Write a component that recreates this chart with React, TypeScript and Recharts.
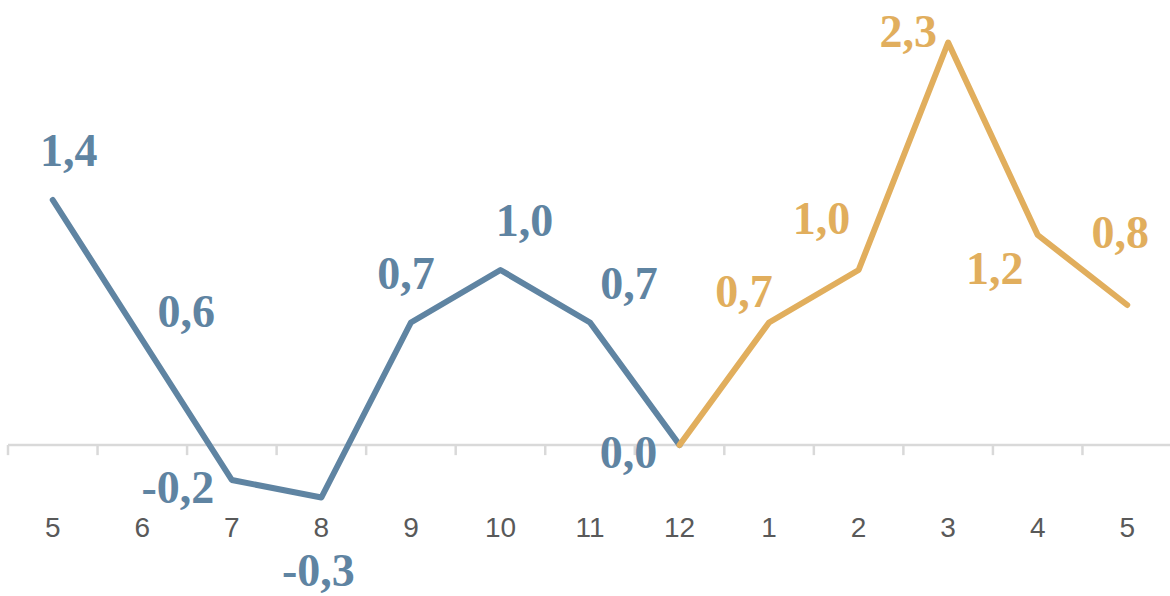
import React from 'react';
import { LineChart, Line, XAxis, YAxis, ReferenceLine, LabelList } from 'recharts';

const MONTHS = ['5', '6', '7', '8', '9', '10', '11', '12', '1', '2', '3', '4', '5'];
const SERIES_A = [1.4, 0.6, -0.2, -0.3, 0.7, 1.0, 0.7, 0.0, null, null, null, null, null];
const SERIES_B = [null, null, null, null, null, null, null, 0.0, 0.7, 1.0, 2.3, 1.2, 0.8];

// label offsets (pixels) relative to each point
const LABEL_OFFSETS_A: [number, number][] = [
  [16, -50], [44, -29], [-54, 7], [-3, 73], [-5, -49], [24, -50], [39, -39], [-51, 7],
];
const LABEL_OFFSETS_B: [number, number][] = [
  [0, 0], [0, 0], [0, 0], [0, 0], [0, 0], [0, 0], [0, 0], [0, 0],
  [-25, -31], [-37, -52], [-40, -11], [-43, 33], [-7, -73],
];

const BLUE = '#5F84A2';
const ORANGE = '#E1AE5D';

const data = MONTHS.map((m, i) => ({ i, m, a: SERIES_A[i], b: SERIES_B[i] }));
const boundaries = MONTHS.map((_, i) => i - 0.5).concat([MONTHS.length - 0.5]);

const fmt = (v: number) => v.toFixed(1).replace('.', ',');

const makeLabel = (offsets: [number, number][], color: string, skip: number[]) => (props: any) => {
  const { x, y, value, index } = props;
  if (value === null || value === undefined || skip.includes(index)) return null;
  const off = offsets[index] || [0, 0];
  return (
    <text
      x={x + off[0]}
      y={y + off[1]}
      textAnchor="middle"
      dominantBaseline="central"
      fill={color}
      fontFamily="'Liberation Serif', serif"
      fontWeight="bold"
      fontSize={46}
    >
      {fmt(value)}
    </text>
  );
};

const Tick = (props: any) => {
  const { x, y, payload } = props;
  return (
    <text
      x={x}
      y={y}
      dy={4}
      textAnchor="middle"
      dominantBaseline="central"
      fill="#595959"
      fontFamily="'Liberation Sans', sans-serif"
      fontSize={28}
    >
      {MONTHS[payload.value]}
    </text>
  );
};

export default function App() {
  return (
    <div style={{ position: 'absolute', left: 0, top: 0, background: '#fff' }}>
      <LineChart
        width={1172}
        height={596}
        data={data}
        margin={{ top: 7.5, right: 0, bottom: 51, left: 8 }}
      >
        <XAxis
          dataKey="i"
          type="number"
          domain={[-0.5, 12.5]}
          ticks={MONTHS.map((_, i) => i)}
          axisLine={false}
          tickLine={false}
          height={30}
          tick={<Tick />}
          interval={0}
        />
        <YAxis hide domain={[-0.4, 2.5]} />
        <ReferenceLine y={0} stroke="#D9D9D9" strokeWidth={2.5} />
        {boundaries.map((b) => (
          <ReferenceLine
            key={b}
            segment={[{ x: b, y: 0 }, { x: b, y: -0.058 }]}
            stroke="#D9D9D9"
            strokeWidth={2.5}
          />
        ))}
        <Line
          dataKey="a"
          stroke={BLUE}
          strokeWidth={6}
          dot={false}
          isAnimationActive={false}
          strokeLinecap="round"
          strokeLinejoin="round"
        >
          <LabelList dataKey="a" content={makeLabel(LABEL_OFFSETS_A, BLUE, [])} />
        </Line>
        <Line
          dataKey="b"
          stroke={ORANGE}
          strokeWidth={6}
          dot={false}
          isAnimationActive={false}
          strokeLinecap="round"
          strokeLinejoin="round"
        >
          <LabelList dataKey="b" content={makeLabel(LABEL_OFFSETS_B, ORANGE, [7])} />
        </Line>
      </LineChart>
    </div>
  );
}
